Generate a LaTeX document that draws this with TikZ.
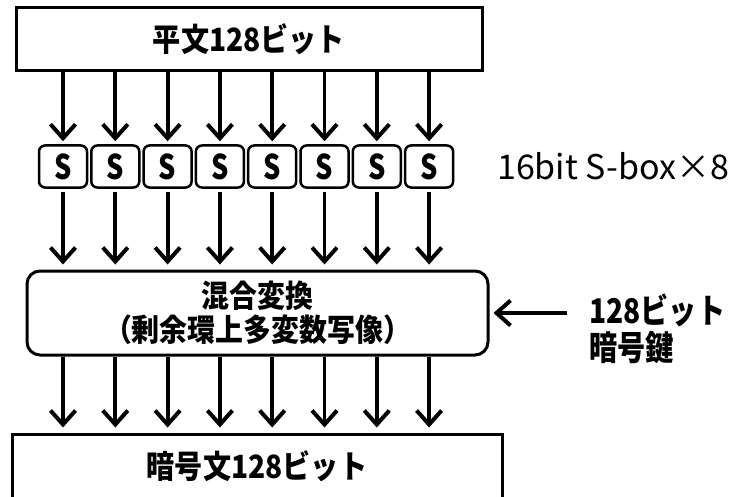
\documentclass[tikz,border=0pt]{standalone}
\usepackage{fontspec}
\setmainfont{Noto Sans CJK JP}
\usetikzlibrary{arrows.meta}
\newcommand{\nar}[2][0.9]{\scalebox{#1}[1]{#2}}
\begin{document}
\begin{tikzpicture}[x=1pt,y=-1pt,
  box/.style={draw,line width=3pt,inner sep=0pt,font=\fontsize{32}{36}\selectfont\bfseries},
  sbox/.style={draw,line width=2.5pt,rounded corners=6pt,minimum width=48pt,minimum height=42pt,inner sep=0pt,font=\fontsize{34}{34}\selectfont\bfseries},
  arr/.style={line width=3.8pt,-{Straight Barb[length=14pt,width=25pt,line width=4pt]}},
  lbl/.style={anchor=west,inner sep=0pt,align=left}]
\useasboundingbox (0,0) rectangle (735,497);
\node[box,minimum width=466pt,minimum height=63pt] (top) at (249,39.5) {\nar[0.88]{平文128ビット}};
\foreach \i in {1,...,8}{
  \node[sbox] (s\i) at ({63+52.3*(\i-1)},166.5) {\nar[0.8]{S}};
}
\node[box,rounded corners=13pt,minimum width=461pt,minimum height=84pt,align=center,font=\fontsize{31}{34}\selectfont\bfseries] (mix) at (257.5,313) {\nar{混合変換}\\\nar{（剰余環上多変数写像）}};
\node[box,minimum width=490pt,minimum height=64pt] (bot) at (257,466) {\raisebox{-1pt}{\nar[0.88]{暗号文128ビット}}};
\foreach \i in {1,...,8}{
  \draw[arr,shorten >=3pt] (s\i |- top.south) -- (s\i.north);
  \draw[arr,shorten >=5pt,shorten <=3pt] (s\i.south) -- (s\i |- mix.north);
  \draw[arr,shorten >=5pt] (s\i |- mix.south) -- (s\i |- bot.north);
}
\node[lbl,font=\fontsize{34}{34}\selectfont] (slbl) at (497,166) {16bit S-box×8};
\node[lbl,font=\fontsize{34}{37}\selectfont\bfseries] (key) at (589,329) {\nar[0.83]{128ビット}\\\nar[0.83]{暗号鍵}};
\coordinate (keystart) at (567,313);
\draw[arr,shorten >=4pt] (keystart) -- (mix.east);
\end{tikzpicture}
\end{document}
